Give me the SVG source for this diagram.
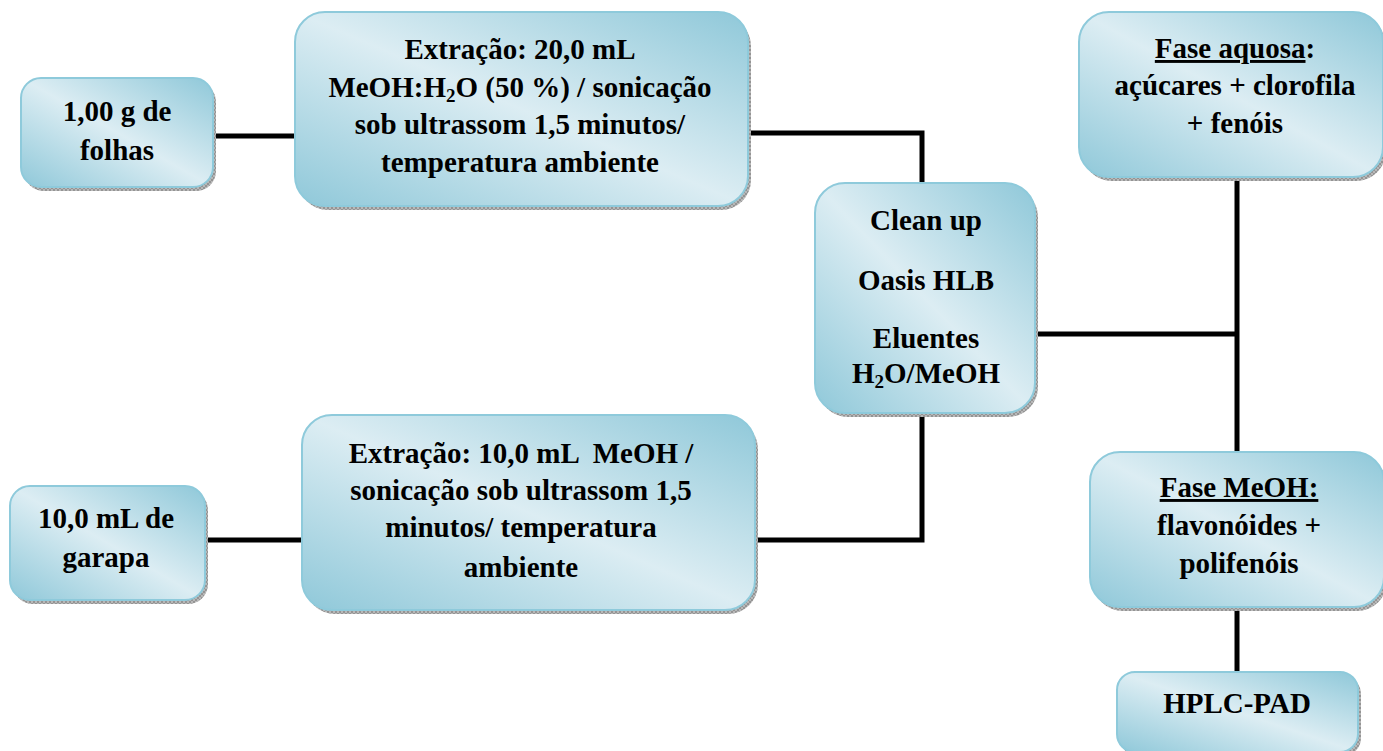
<svg xmlns="http://www.w3.org/2000/svg" width="1383" height="751" viewBox="0 0 1383 751">
<defs>
<linearGradient id="g" x1="0" y1="1" x2="1" y2="0">
<stop offset="0" stop-color="#8fc8d9"/>
<stop offset="0.5" stop-color="#dcedf3"/>
<stop offset="1" stop-color="#8fc8d9"/>
</linearGradient>
<pattern id="hatch" width="4" height="4" patternUnits="userSpaceOnUse">
<rect width="4" height="4" fill="#b8b8b8"/>
<path d="M0 0L4 4M4 0L0 4" stroke="#8a8a8a" stroke-width="0.8"/>
</pattern>
</defs>
<style>
.box{fill:url(#g);stroke:#8ecadb;stroke-width:2}
.sh{fill:url(#hatch)}
text{font-family:"Liberation Serif","Times New Roman",serif;font-weight:bold;font-size:29px;fill:#000;text-anchor:middle}
.u{text-decoration:underline}
.conn{stroke:#000;stroke-width:5;fill:none}
</style>
<rect width="1383" height="751" fill="#fff"/>
<g id="connectors">
<path class="conn" d="M213 136H295"/>
<path class="conn" d="M748 133H922V183"/>
<path class="conn" d="M755 540H922V413"/>
<path class="conn" d="M1035 334H1237"/>
<path class="conn" d="M1237 177V452"/>
<path class="conn" d="M1237 607V672"/>
<path class="conn" d="M205 540H302"/>
</g>
<g id="n1">
<rect class="sh" x="24" y="82" width="192" height="109" rx="20"/>
<rect class="box" x="21" y="78" width="192" height="109" rx="20"/>
<text x="117" y="121">1,00 g de</text>
<text x="117" y="160">folhas</text>
</g>
<g id="n2">
<rect class="sh" x="298" y="16" width="453" height="194" rx="30"/>
<rect class="box" x="295" y="12" width="453" height="194" rx="30"/>
<text x="520" y="59">Extração: 20,0 mL</text>
<text x="520" y="97">MeOH:H<tspan font-size="19" dy="5">2</tspan><tspan dy="-5">O (50 %) / sonicação</tspan></text>
<text x="520" y="134">sob ultrassom 1,5 minutos/</text>
<text x="520" y="172">temperatura ambiente</text>
</g>
<g id="n3">
<rect class="sh" x="818" y="187" width="220" height="230" rx="30"/>
<rect class="box" x="815" y="183" width="220" height="230" rx="30"/>
<text x="926" y="230">Clean up</text>
<text x="926" y="290">Oasis HLB</text>
<text x="926" y="348">Eluentes</text>
<text x="926" y="383">H<tspan font-size="19" dy="5">2</tspan><tspan dy="-5">O/MeOH</tspan></text>
</g>
<g id="n4">
<rect class="sh" x="1082" y="16" width="304" height="165" rx="30"/>
<rect class="box" x="1079" y="12" width="304" height="165" rx="30"/>
<text x="1235" y="58"><tspan class="u">Fase aquosa</tspan>:</text>
<text x="1235" y="95">açúcares + clorofila</text>
<text x="1235" y="133">+ fenóis</text>
</g>
<g id="n5">
<rect class="sh" x="1093" y="456" width="294" height="155" rx="30"/>
<rect class="box" x="1090" y="452" width="294" height="155" rx="30"/>
<text x="1239" y="497" class="u">Fase MeOH:</text>
<text x="1239" y="535">flavonóides +</text>
<text x="1239" y="573">polifenóis</text>
</g>
<g id="n6">
<rect class="sh" x="1120" y="676" width="241" height="80" rx="18"/>
<rect class="box" x="1117" y="672" width="241" height="80" rx="18"/>
<text x="1237" y="713">HPLC-PAD</text>
</g>
<g id="n7">
<rect class="sh" x="13" y="490" width="195" height="114" rx="20"/>
<rect class="box" x="10" y="486" width="195" height="114" rx="20"/>
<text x="106" y="528">10,0 mL de</text>
<text x="106" y="567">garapa</text>
</g>
<g id="n8">
<rect class="sh" x="305" y="419" width="453" height="195" rx="30"/>
<rect class="box" x="302" y="415" width="453" height="195" rx="30"/>
<text x="521" y="463" xml:space="preserve">Extração: 10,0 mL  MeOH /</text>
<text x="521" y="500">sonicação sob ultrassom 1,5</text>
<text x="521" y="537">minutos/ temperatura</text>
<text x="521" y="577">ambiente</text>
</g>
</svg>
